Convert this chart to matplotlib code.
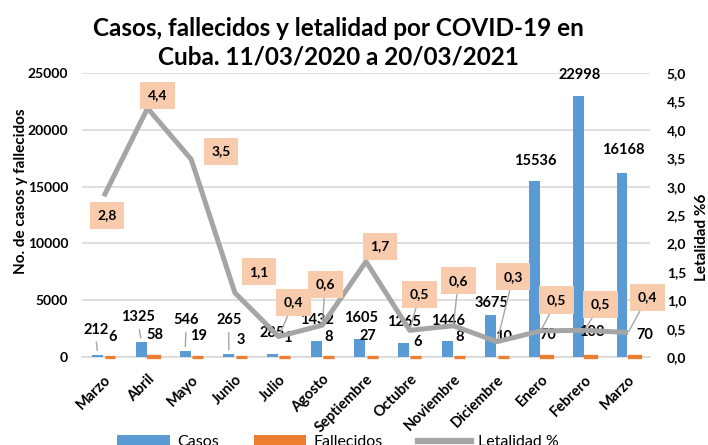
import matplotlib
matplotlib.use("Agg")
import matplotlib.pyplot as plt
import matplotlib.ticker as mticker
from matplotlib.patches import Patch
from matplotlib.lines import Line2D
import numpy as np

# ─── datos ───────────────────────────────────────────────
meses = ["Marzo", "Abril", "Mayo", "Junio", "Julio", "Agosto", "Septiembre",
         "Octubre", "Noviembre", "Diciembre", "Enero", "Febrero", "Marzo"]
casos = [212, 1325, 546, 265, 285, 1432, 1605, 1265, 1446, 3675, 15536, 22998, 16168]
fallecidos = [6, 58, 19, 3, 1, 8, 27, 6, 8, 10, 70, 108, 70]
letalidad = [2.83, 4.38, 3.48, 1.13, 0.36, 0.56, 1.68, 0.47, 0.55, 0.27, 0.46, 0.47, 0.43]

# ─── posición de etiquetas (px desde la marca: x derecha, y arriba) ──
off_casos = [(-2, 25), (-3, 25), (1, 31), (0, 34), (0, 21), (1, 21), (1, 21),
             (0, 21), (1, 20), (1, 12), (1, 20), (1, 21), (1, 23)]
lead_casos = [True, True, True, True] + [False] * 9
off_fall = [(3, 20), (1, 21), (1, 21), (0, 17), (3, 19), (0, 20), (-4, 21),
            (2, 15), (0, 20), (0, 20), (1, 21), (1, 24), (11, 21)]
off_let = [(3, -19), (10, 13), (30, 8), (24, 21), (15, 34), (3, 41), (14, 15),
           (10, 36), (5, 45), (16, 65), (16, 31), (16, 26), (19, 35)]
lead_let = [False, False, False, False, True, True, False,
            True, True, True, True, True, True]

AZUL = "#5B9BD5"
NARANJA = "#ED7D31"
GRIS = "#A5A5A5"
CAJA = "#F8CBAD"
GRID = "#D9D9D9"
TXT = "#000000"
# ─────────────────────────────────────────────────────────

plt.rcParams["font.family"] = ["Lato", "DejaVu Sans"]

fig = plt.figure(figsize=(7.08, 4.45), dpi=100)
fig.patch.set_facecolor("white")
ax = fig.add_axes([82 / 708, 1 - 357 / 445, 568 / 708, 284 / 445])
ax2 = ax.twinx()

x = np.arange(len(meses))
w = 0.25
dx = 0.14

ax.bar(x - dx, casos, width=w, color=AZUL, zorder=2)
ax.bar(x + dx, fallecidos, width=w, color=NARANJA, edgecolor=NARANJA,
       linewidth=2.4, zorder=2, clip_on=False)

ax.set_xlim(-0.5, len(meses) - 0.5)
ax.set_ylim(0, 25000)
ax.yaxis.set_major_locator(mticker.MultipleLocator(5000))
ax.grid(axis="y", color=GRID, linewidth=1.2, zorder=0)
ax.set_axisbelow(True)
for s in ["top", "left", "right"]:
    ax.spines[s].set_visible(False)
ax.spines["bottom"].set_color(GRID)
ax.spines["bottom"].set_linewidth(1.2)
ax.spines["bottom"].set_zorder(0.5)
ax.tick_params(axis="y", length=0, pad=10, labelsize=10)
ax.tick_params(axis="x", length=0, pad=11)
for t in ax.get_yticklabels():
    t.set_fontweight("bold")
ax.set_xticks(x)
ax.set_xticklabels(meses, rotation=45, ha="right", rotation_mode="anchor",
                   fontsize=10.5, fontweight="bold")

# etiquetas de casos
for i, v in enumerate(casos):
    ox, oy = off_casos[i]
    props = None
    if lead_casos[i]:
        props = dict(arrowstyle="-", color=GRIS, lw=1, relpos=(0.5, 0),
                     shrinkA=2, shrinkB=3)
    ax.annotate(f"{v}", (x[i] - dx, v), xytext=(ox, oy),
                textcoords="offset pixels", ha="center", va="center",
                fontsize=10.5, fontweight="bold", color=TXT,
                arrowprops=props, zorder=3)

# etiquetas de fallecidos
for i, v in enumerate(fallecidos):
    ox, oy = off_fall[i]
    ax.annotate(f"{v}", (x[i] + dx, v), xytext=(ox, oy),
                textcoords="offset pixels", ha="center", va="center",
                fontsize=10.5, fontweight="bold", color=TXT, zorder=3)

# letalidad
ax2.plot(x, letalidad, color=GRIS, linewidth=3.6, solid_joinstyle="round",
         solid_capstyle="butt", zorder=2)
ax2.set_ylim(0, 5)
ax2.yaxis.set_major_locator(mticker.MultipleLocator(0.5))
ax2.yaxis.set_major_formatter(
    mticker.FuncFormatter(lambda v, _: f"{v:.1f}".replace(".", ",")))
ax2.tick_params(axis="y", length=0, pad=12, labelsize=10)
for t in ax2.get_yticklabels():
    t.set_fontweight("bold")
for s in ax2.spines.values():
    s.set_visible(False)

for i, v in enumerate(letalidad):
    ox, oy = off_let[i]
    props = None
    if lead_let[i]:
        props = dict(arrowstyle="-", color=GRIS, lw=1, shrinkA=0, shrinkB=1)
    ax2.annotate(f"{v:.1f}".replace(".", ","), (x[i], v), xytext=(ox, oy),
                 textcoords="offset pixels", ha="center", va="center",
                 fontsize=10, fontweight="bold", color=TXT,
                 bbox=dict(boxstyle="square,pad=0.55", facecolor=CAJA,
                           edgecolor="none"),
                 arrowprops=props, zorder=4)

# títulos de ejes
fig.text(21 / 708, 1 - 191 / 445, "No. de casos y fallecidos", rotation=90,
         ha="center", va="center", fontsize=11, fontweight="bold")
fig.text(702 / 708, 1 - 237 / 445, "Letalidad %6", rotation=90,
         ha="center", va="center", fontsize=11, fontweight="bold")

fig.text(338 / 708, 1 - 43 / 445,
         "Casos, fallecidos y letalidad por COVID-19 en\nCuba. 11/03/2020 a 20/03/2021",
         ha="center", va="center", fontsize=17.5, fontweight="bold",
         linespacing=1.3)

handles = [Patch(facecolor=AZUL), Patch(facecolor=NARANJA),
           Line2D([], [], color=GRIS, linewidth=4.5)]
fig.legend(handles, ["Casos", "Fallecidos", "Letalidad %"],
           loc="upper left", bbox_to_anchor=(117 / 708, 1 - 435 / 445),
           ncol=3, frameon=False, fontsize=11.5, handlelength=3.3,
           handleheight=0.7, handletextpad=0.45, columnspacing=2.2,
           borderpad=0, borderaxespad=0)

fig.savefig("out.png", dpi=100, facecolor="white")
